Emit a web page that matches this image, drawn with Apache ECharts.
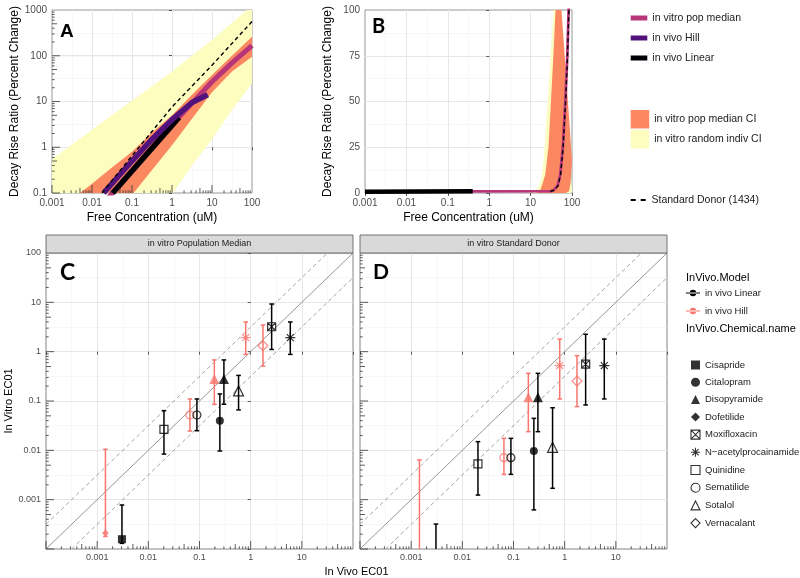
<!DOCTYPE html>
<html><head><meta charset="utf-8">
<script src="https://cdn.jsdelivr.net/npm/echarts@6/dist/echarts.min.js"></script>
<style>html,body{margin:0;padding:0;background:#fff}#chart{width:800px;height:578px}</style>
</head><body><div id="chart"></div>
<script>
// ---------------- DATA ----------------
// Panel A (log-log): [free concentration uM, decay rise ratio %]
const aIndivUpper  = [[0.001,0.55],[0.01,2.4],[0.1,10.4],[1,45],[10,220],[100,1250]];
const aIndivLower  = [[0.001,0.00002],[0.01,0.0004],[0.1,0.006],[1.07,0.1],[3.16,0.4],[10,1.5],[31.6,6.5],[100,25]];
const aMedCIUpper  = [[0.001,0.033],[0.005,0.1],[0.01,0.16],[0.0316,0.36],[0.1,0.8],[0.316,2.1],[1,5],[3.16,14],[10,38],[31.6,100],[100,260]];
const aMedCILower  = [[0.001,0.0007],[0.01,0.007],[0.11,0.1],[0.316,0.32],[1,1.1],[3.16,4.2],[10,16],[31.6,45],[100,95]];
const aMedian      = [[0.01,0.031],[0.1,0.31],[1,3.1],[3.16,9.2],[10,27],[31.6,70],[100,166]];
const aHill        = [[0.0195,0.1],[0.1,0.5],[0.316,1.5],[1,4.0],[3.16,9.5],[7.8,14]];
const aLinear      = [[0.033,0.1],[1.5,4.5]];
const aStdDonor    = [[0.0178,0.1],[0.1,0.65],[1,7.6],[10,62],[100,560]];
// Panel B (log x, linear y)
const bIndivUpper  = [[0.001,0],[11.5,0],[13,1],[16,4],[19,10],[22,25],[25.7,50],[30.5,75],[36,100],[40,130]];
const bIndivLower  = [[0.001,0],[95,0],[100,1]];
const bMedCIUpper  = [[0.001,0],[13.5,0],[15,0.5],[17.5,2],[20,6],[22.6,10],[27,25],[31,50],[35.5,75],[40,100],[45,130]];
const bMedCILower  = [[0.001,0],[70,0],[85,1],[93,6],[97,12],[100,18]];
const bMedian      = [[0.001,0.8],[30,1.0],[36,1.6],[45,4],[52,10],[60,25],[69,50],[77,75],[83,100],[90,130]];
const bLinear      = [[0.001,0.7],[0.4,0.9]];
const bStdDonor    = [[30,0.8],[37,1.5],[46,4],[53,10],[61,25],[70,50],[78,75],[84,100],[88,120]];
// Tick labels
const aXTickLabels  = ['0.001','0.01','0.1','1','10','100'];
const aYTickLabels  = ['0.1','1','10','100','1000'];
const bXTickLabels  = ['0.001','0.01','0.1','1','10','100'];
const bYTickLabels  = ['0','25','50','75','100'];
const cdXTickLabels = ['0.001','0.01','0.1','1','10'];
const cYTickLabels  = ['0.001','0.01','0.1','1','10','100'];
// Panels C / D: EC01 comparisons
const chemicals = ['Cisapride','Citalopram','Disopyramide','Dofetilide','Moxifloxacin','N\u2212acetylprocainamide','Quinidine','Sematilide','Sotalol','Vernacalant'];
const models = ['in vivo Linear','in vivo Hill'];
const ptChemical = ['Dofetilide','Cisapride','Quinidine','Sematilide','Sematilide','Disopyramide','Disopyramide','Citalopram','Sotalol','N\u2212acetylprocainamide','Vernacalant','Moxifloxacin','N\u2212acetylprocainamide'];
const ptModel = ['in vivo Hill','in vivo Linear','in vivo Linear','in vivo Hill','in vivo Linear','in vivo Hill','in vivo Linear','in vivo Linear','in vivo Linear','in vivo Hill','in vivo Hill','in vivo Linear','in vivo Linear'];
const ptInVivoEC01 = [0.00145,0.00305,0.0202,0.065,0.089,0.195,0.30,0.25,0.58,0.80,1.74,2.57,5.95];
const cMedian = [0.00021,0.000158,0.0267,0.052,0.052,0.279,0.28,0.040,0.16,1.92,1.32,3.2,1.92];
const cLower  = [0.00018,0.00013,0.0084,0.0247,0.025,0.0855,0.086,0.0097,0.066,0.88,0.51,1.11,0.88];
const cUpper  = [0.0105,0.00078,0.0637,0.11,0.11,0.68,0.68,0.139,0.33,4.0,3.47,9.25,4.0];
const dMedian = [0.00006,0.000065,0.0053,0.0071,0.0071,0.119,0.119,0.0097,0.0115,0.52,0.254,0.56,0.52];
const dLower  = [0.00004,0.00005,0.00124,0.00326,0.00326,0.0239,0.0239,0.00062,0.0017,0.11,0.077,0.083,0.11];
const dUpper  = [0.0064,0.00032,0.015,0.0175,0.0175,0.364,0.364,0.0445,0.073,1.8,0.83,2.25,1.8];
const refFactor = 3.16;
const cdMin = 1e-4, cdMax = 100;

// ---------------- STYLE ----------------
const FONT = '"Liberation Sans", Arial, sans-serif';
const LETTER_FONT = 'Lato, "Open Sans", sans-serif';
const COL = {median:'#B63679', hill:'#51127C', linear:'#000004', ci:'#FB8861', indiv:'#FCFDBF'};
const MODEL_COL = {'in vivo Linear':'#000000', 'in vivo Hill':'#F8766D'};
const chemStyle = {
  'Cisapride':{symbol:'rect', size:8, open:false},
  'Citalopram':{symbol:'circle', size:8, open:false},
  'Disopyramide':{symbol:'triangle', size:10, open:false},
  'Dofetilide':{symbol:'diamond', size:7, open:false},
  'Moxifloxacin':{symbol:'path://M0,0H10V10H0Z M0,0L10,10 M10,0L0,10', size:8, open:true},
  'N\u2212acetylprocainamide':{symbol:'path://M5,0V10 M0,5H10 M1.5,1.5L8.5,8.5 M8.5,1.5L1.5,8.5', size:10, open:true},
  'Quinidine':{symbol:'rect', size:8, open:true},
  'Sematilide':{symbol:'circle', size:8, open:true},
  'Sotalol':{symbol:'triangle', size:10, open:true},
  'Vernacalant':{symbol:'diamond', size:10, open:true}
};

// ---------------- HELPERS ----------------
function logLabel(list){
  return v => { const e = Math.round(Math.log10(v));
    const s = list.find(t => Math.round(Math.log10(parseFloat(t))) === e);
    return s === undefined ? '' : s; };
}
function logAxis(gi, min, max, labels, extra){
  return Object.assign({
    type:'log', logBase:10, gridIndex:gi, min, max, z:1,
    axisLine:{show:false},
    axisTick:{show:true, length:3, lineStyle:{color:'#333', width:0.8}},
    axisLabel:{show:true, formatter:logLabel(labels), color:'#4D4D4D', fontSize:10, fontFamily:FONT, margin:5},
    splitLine:{show:true, showMinLine:false, showMaxLine:false, lineStyle:{color:'#E6E6E6', width:1}},
    nameTextStyle:{fontFamily:FONT, fontSize:12, color:'#000'}
  }, extra || {});
}
function expAxis(gi, min, max){
  return {type:'value', gridIndex:gi, min, max, interval:0.5, z:0, show:true,
    axisLine:{show:false}, axisTick:{show:false}, axisLabel:{show:false},
    splitLine:{show:true, showMinLine:false, showMaxLine:false, lineStyle:{color:'#F2F2F2', width:0.6}}};
}
function band(name, upper, lower, color, ai){
  return {type:'custom', name, xAxisIndex:ai, yAxisIndex:ai, clip:true, silent:true, z:2,
    itemStyle:{color}, data:upper,
    renderItem:(params, api) => {
      if (params.dataIndex !== 0) return null;
      const pts = upper.map(p => api.coord(p)).concat(lower.slice().reverse().map(p => api.coord(p)));
      return {type:'polygon', shape:{points:pts}, style:{fill:color}};
    }};
}
function curve(name, pts, color, width, ai, z, dashed){
  return {type:'line', name, xAxisIndex:ai, yAxisIndex:ai, data:pts, showSymbol:false, symbol:'none',
    clip:true, silent:true, z, itemStyle:{color},
    lineStyle:{color, width, type: dashed ? [4,3] : 'solid', cap:'butt'}};
}
function logTicks(ai, side, lo, hi, other){
  const data = [];
  for (let e = Math.floor(Math.log10(lo) + 1e-9); e < Math.round(Math.log10(hi)); e++) {
    for (let m = 1; m <= 9; m++) {
      const v = m * Math.pow(10, e);
      if (v >= lo * 0.999 && v <= hi * 1.001) data.push([v, m === 1 ? 8 : (m === 5 ? 5 : 2.7)]);
    }
  }
  return {type:'custom', xAxisIndex:ai, yAxisIndex:ai, clip:false, silent:true, z:6, data,
    renderItem:(params, api) => {
      const v = api.value(0), len = api.value(1);
      if (side === 'b') { const p = api.coord([v, other]);
        return {type:'line', shape:{x1:p[0], y1:p[1], x2:p[0], y2:p[1]-len}, style:{stroke:'#333', lineWidth:0.8}}; }
      const p = api.coord([other, v]);
      return {type:'line', shape:{x1:p[0], y1:p[1], x2:p[0]+len, y2:p[1]}, style:{stroke:'#333', lineWidth:0.8}};
    }};
}
function errorBars(model, ai, lo, hi){
  const color = MODEL_COL[model];
  const data = [];
  ptModel.forEach((m, i) => { if (m === model) data.push([ptInVivoEC01[i], lo[i], hi[i]]); });
  return {type:'custom', name: model + ' ', xAxisIndex:ai, yAxisIndex:ai, clip:true, silent:true, z:3,
    itemStyle:{color}, encode:{x:0, y:[1,2]}, data,
    renderItem:(params, api) => {
      const x = api.value(0);
      const pl = api.coord([x, api.value(1)]), ph = api.coord([x, api.value(2)]);
      const cw = 2.3, st = {stroke:color, lineWidth:1.5};
      return {type:'group', children:[
        {type:'line', shape:{x1:pl[0], y1:pl[1], x2:ph[0], y2:ph[1]}, style:st},
        {type:'line', shape:{x1:ph[0]-cw, y1:ph[1], x2:ph[0]+cw, y2:ph[1]}, style:st},
        {type:'line', shape:{x1:pl[0]-cw, y1:pl[1], x2:pl[0]+cw, y2:pl[1]}, style:st}
      ]};
    }};
}
function chemScatter(chem, ai, med){
  const st = chemStyle[chem];
  const data = [];
  ptChemical.forEach((c, i) => {
    if (c !== chem) return;
    const col = MODEL_COL[ptModel[i]];
    data.push({value:[ptInVivoEC01[i], med[i]],
      itemStyle: st.open ? {color:'none', borderColor:col, borderWidth:1.2} : {color:col, borderWidth:0}});
  });
  return {type:'scatter', name:chem, xAxisIndex:ai, yAxisIndex:ai, symbol:st.symbol, symbolSize:st.size,
    clip:true, silent:true, z:4,
    itemStyle: st.open ? {color:'none', borderColor:'#000', borderWidth:1.2} : {color:'#000'}, data};
}
function refLines(ai){
  return [
    {type:'line', xAxisIndex:ai, yAxisIndex:ai, data:[[cdMin,cdMin],[cdMax,cdMax]], symbol:'none', silent:true, clip:true, z:2, lineStyle:{color:'#8A8A8A', width:0.9}},
    {type:'line', xAxisIndex:ai, yAxisIndex:ai, data:[[cdMin,cdMin*refFactor],[cdMax/refFactor,cdMax]], symbol:'none', silent:true, clip:true, z:2, lineStyle:{color:'#999', width:0.9, type:[4,3]}},
    {type:'line', xAxisIndex:ai, yAxisIndex:ai, data:[[cdMin*refFactor,cdMin],[cdMax,cdMax/refFactor]], symbol:'none', silent:true, clip:true, z:2, lineStyle:{color:'#999', width:0.9, type:[4,3]}}
  ];
}
function chemLegendItem(c){
  const st = chemStyle[c];
  return {name:c, icon:st.symbol, itemStyle: st.open ? {color:'none', borderColor:'#000', borderWidth:1.1} : {color:'#000', borderWidth:0}};
}

// ---------------- OPTION ----------------
const gridBorder = {show:true, borderColor:'#7F7F7F', borderWidth:0.8, backgroundColor:'#fff'};
const grids = [
  Object.assign({left:52, top:10, width:200, height:183}, gridBorder),
  Object.assign({left:365, top:10, width:207, height:183}, gridBorder),
  Object.assign({left:46, top:253, width:307, height:296}, gridBorder, {borderColor:'#666'}),
  Object.assign({left:360, top:253, width:307, height:296}, gridBorder, {borderColor:'#666'})
];
const cdLabel = {fontSize:9};
const xAxes = [
  logAxis(0, 0.001, 100, aXTickLabels, {name:'Free Concentration (uM)', nameLocation:'middle', nameGap:19}),
  logAxis(1, 0.001, 100, bXTickLabels, {name:'Free Concentration (uM)', nameLocation:'middle', nameGap:19}),
  logAxis(2, cdMin, cdMax, cdXTickLabels),
  logAxis(3, cdMin, cdMax, cdXTickLabels),
  expAxis(0, -3, 2), expAxis(1, -3, 2), expAxis(2, -4, 2), expAxis(3, -4, 2)
];
xAxes[2].axisLabel = Object.assign({}, xAxes[2].axisLabel, cdLabel, {margin:4});
xAxes[3].axisLabel = Object.assign({}, xAxes[3].axisLabel, cdLabel, {margin:4});
const yAxes = [
  logAxis(0, 0.1, 1000, aYTickLabels, {name:'Decay Rise Ratio (Percent Change)', nameLocation:'middle', nameGap:31}),
  {type:'value', gridIndex:1, min:0, max:100, interval:25, z:1,
    axisLine:{show:false}, axisTick:{show:true, length:3, lineStyle:{color:'#333', width:0.8}},
    axisLabel:{formatter:v => { const s = bYTickLabels.find(t => +t === v); return s === undefined ? '' : s; }, color:'#4D4D4D', fontSize:10, fontFamily:FONT, margin:5},
    splitLine:{show:true, showMinLine:false, showMaxLine:false, lineStyle:{color:'#E6E6E6', width:1}},
    minorTick:{show:false, splitNumber:2},
    minorSplitLine:{show:true, lineStyle:{color:'#F2F2F2', width:0.6}},
    name:'Decay Rise Ratio (Percent Change)', nameLocation:'middle', nameGap:31,
    nameTextStyle:{fontFamily:FONT, fontSize:12, color:'#000'}},
  logAxis(2, cdMin, cdMax, cYTickLabels, {name:'In Vitro EC01', nameLocation:'middle', nameGap:30, nameTextStyle:{fontFamily:FONT, fontSize:11, color:'#000'}}),
  logAxis(3, cdMin, cdMax, cYTickLabels, {axisLabel:{show:false}, axisTick:{show:false}}),
  expAxis(0, -1, 3), expAxis(2, -4, 2), expAxis(3, -4, 2)
];
yAxes[2].axisLabel = Object.assign({}, yAxes[2].axisLabel, cdLabel);

const series = [];
// Panel A
series.push(band('in vitro random indiv CI', aIndivUpper, aIndivLower, COL.indiv, 0));
series.push(band('in vitro pop median CI', aMedCIUpper, aMedCILower, COL.ci, 0));
series.push(curve('in vitro pop median', aMedian, COL.median, 5, 0, 3));
series.push(curve('in vivo Linear', aLinear, COL.linear, 5.5, 0, 3));
series.push(curve('in vivo Hill', aHill, COL.hill, 5.5, 0, 4));
series.push(curve('Standard Donor (1434)', aStdDonor, '#000', 1.4, 0, 5, true));
series.push(logTicks(0, 'b', 0.001, 100, 0.1));
series.push(logTicks(0, 'l', 0.1, 1000, 0.001));
// Panel B
series.push(band('in vitro random indiv CI', bIndivUpper, bIndivLower, COL.indiv, 1));
series.push(band('in vitro pop median CI', bMedCIUpper, bMedCILower, COL.ci, 1));
series.push(curve('in vitro pop median', bMedian, COL.median, 2.8, 1, 3));
series.push(curve('in vivo Linear', bLinear, COL.linear, 4.5, 1, 4));
series.push(curve('Standard Donor (1434)', bStdDonor, '#000', 1.4, 1, 5, true));
// Panels C & D
[[2, cMedian, cLower, cUpper], [3, dMedian, dLower, dUpper]].forEach(([ai, med, lo, hi]) => {
  refLines(ai).forEach(s => series.push(s));
  models.forEach(m => series.push(errorBars(m, ai, lo, hi)));
  chemicals.forEach(c => series.push(chemScatter(c, ai, med)));
  series.push(logTicks(ai, 'b', cdMin, cdMax, cdMin));
  series.push(logTicks(ai, 'l', cdMin, cdMax, cdMin));
});

const legText = {fontFamily:FONT, fontSize:10.5, color:'#1A1A1A', lineHeight:12};
const chemText = {fontFamily:FONT, fontSize:9.5, color:'#1A1A1A', lineHeight:12};
const filledChems = chemicals.filter(c => !chemStyle[c].open);
const openChems = chemicals.filter(c => chemStyle[c].open);
const legends = [
  {orient:'vertical', left:630.7, top:12, padding:0, itemGap:8, itemWidth:16.6, itemHeight:5, selectedMode:false, textStyle:legText,
    data:[{name:'in vitro pop median', icon:'rect', itemStyle:{color:COL.median}},
          {name:'in vivo Hill', icon:'rect', itemStyle:{color:COL.hill}},
          {name:'in vivo Linear', icon:'rect', itemStyle:{color:COL.linear}}]},
  {orient:'vertical', left:630.7, top:110, padding:0, itemGap:1.5, itemWidth:18.5, itemHeight:18.5, selectedMode:false, textStyle:legText,
    data:[{name:'in vitro pop median CI', icon:'rect', itemStyle:{color:COL.ci}},
          {name:'in vitro random indiv CI', icon:'rect', itemStyle:{color:COL.indiv}}]},
  {orient:'vertical', left:630.7, top:194, padding:0, itemWidth:16.6, itemHeight:2, selectedMode:false, textStyle:legText,
    data:[{name:'Standard Donor (1434)', icon:'path://M0,0H5V2H0Z M10,0H15V2H10Z', itemStyle:{color:'#000'}}]},
  {orient:'vertical', left:686, top:287, padding:0, itemGap:6, itemWidth:14, itemHeight:8, selectedMode:false,
    textStyle:chemText,
    data:models.map(m => ({name:m + ' ', icon:'path://M0,4.4H14V5.6H0Z M3.8,5A3.2,3.2 0 1 0 10.2,5A3.2,3.2 0 1 0 3.8,5Z', itemStyle:{color:MODEL_COL[m]}}))},
  {orient:'vertical', left:691, top:359, padding:0, itemGap:5.3, itemWidth:9, itemHeight:9, selectedMode:false,
    textStyle:chemText, data:filledChems.map(chemLegendItem)},
  {orient:'vertical', left:688.5, top:427.6, padding:0, itemGap:3.7, itemWidth:9, itemHeight:9, selectedMode:false,
    textStyle:chemText, data:openChems.map(chemLegendItem)}
];

const titles = [
  {text:'A', left:60, top:22, padding:0, textStyle:{fontFamily:FONT, fontWeight:'bold', fontSize:19, color:'#000'}},
  {text:'B', left:372, top:17, padding:0, textStyle:{fontFamily:LETTER_FONT, fontWeight:'bold', fontSize:20, color:'#000'}},
  {text:'C', left:60, top:261, padding:0, textStyle:{fontFamily:LETTER_FONT, fontWeight:'bold', fontSize:23, color:'#000'}},
  {text:'D', left:373, top:262, padding:0, textStyle:{fontFamily:LETTER_FONT, fontWeight:'bold', fontSize:21, color:'#000'}},
  {text:'InVivo.Model', left:686, top:272, padding:0, textStyle:{fontFamily:FONT, fontWeight:'normal', fontSize:11, color:'#000'}},
  {text:'InVivo.Chemical.name', left:686, top:323, padding:0, textStyle:{fontFamily:FONT, fontWeight:'normal', fontSize:11, color:'#000'}}
];

const graphics = [
  {type:'rect', shape:{x:46, y:235, width:307, height:18}, style:{fill:'#D9D9D9', stroke:'#555', lineWidth:0.8}, z:10},
  {type:'text', x:199.5, y:244, style:{text:'in vitro Population Median', align:'center', verticalAlign:'middle', font:'9px "Liberation Sans"', fill:'#1A1A1A'}, z:11},
  {type:'rect', shape:{x:360, y:235, width:307, height:18}, style:{fill:'#D9D9D9', stroke:'#555', lineWidth:0.8}, z:10},
  {type:'text', x:513.5, y:244, style:{text:'in vitro Standard Donor', align:'center', verticalAlign:'middle', font:'9px "Liberation Sans"', fill:'#1A1A1A'}, z:11},
  {type:'text', x:356.5, y:572, style:{text:'In Vivo EC01', align:'center', verticalAlign:'middle', font:'11px "Liberation Sans"', fill:'#000'}, z:11}
];

const chart = echarts.init(document.getElementById('chart'), null, {renderer:'canvas'});
chart.setOption({
  animation:false, backgroundColor:'#fff',
  title:titles, legend:legends, grid:grids, xAxis:xAxes, yAxis:yAxes, series, graphic:graphics
});
</script></body></html>
